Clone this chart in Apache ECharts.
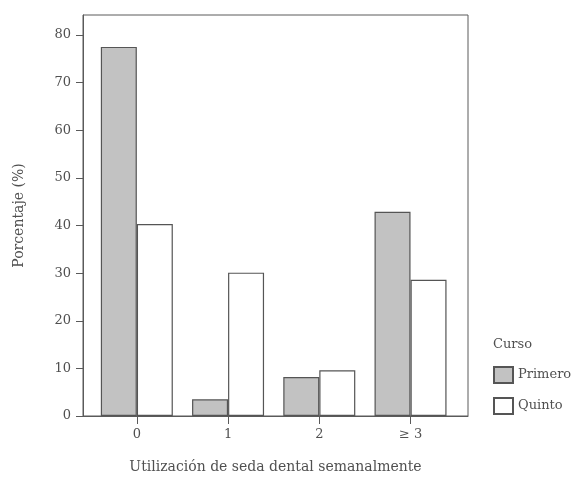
<!DOCTYPE html>
<html>
<head>
<meta charset="utf-8">
<script src="https://cdn.jsdelivr.net/npm/echarts@6/dist/echarts.min.js"></script>
<style>
	html, body { margin: 0; padding: 0; background: #fff; }
	#chart { width: 581px; height: 479px; }
</style>
</head>
<body>
<div id="chart"></div>
<script>
// datos
const categories = ['0', '1', '2', '\u2265 3'];
const seriesNames = ['Primero', 'Quinto'];
const primero = [77.5, 3.5, 8.2, 42.9];
const quinto = [40.3, 30.1, 9.6, 28.6];
const xTicks = [0, 1, 2, 3];
const yTicks = [0, 10, 20, 30, 40, 50, 60, 70, 80];

const font = '"DejaVu Serif", "Liberation Serif", serif';
const textColor = '#505050';
const lineColor = '#5a5a5a';

let myChart = echarts.init(document.getElementById('chart'));

function toPoints(arr) {
	let pts = [];
	for (let i = 0; i < arr.length; i++) {
		pts.push([xTicks[i], arr[i]]);
	}
	return pts;
}

let option = {
	animation: false,
	title: {
		text: 'Curso',
		left: 488,
		top: 333,
		textStyle: { fontFamily: font, fontSize: 13, fontWeight: 'normal', color: textColor }
	},
	legend: {
		orient: 'vertical',
		left: 488,
		top: 361,
		icon: 'rect',
		itemWidth: 19,
		itemHeight: 16,
		itemGap: 13,
		data: seriesNames,
		textStyle: { fontFamily: font, fontSize: 13, color: textColor }
	},
	grid: {
		left: 83,
		right: 113,
		top: 15,
		bottom: 63,
		show: true,
		borderColor: lineColor,
		borderWidth: 1,
		containLabel: false
	},
	xAxis: {
		type: 'value',
		min: -0.59,
		max: 3.63,
		name: 'Utilización de seda dental semanalmente',
		nameLocation: 'middle',
		nameGap: 44,
		nameTextStyle: { fontFamily: font, fontSize: 14, color: textColor },
		splitLine: { show: false },
		axisLine: { show: true, onZero: false, lineStyle: { color: lineColor } },
		axisTick: {
			show: true,
			inside: false,
			length: 8,
			customValues: xTicks,
			lineStyle: { color: lineColor, width: 1 }
		},
		axisLabel: {
			margin: 12,
			customValues: xTicks,
			formatter: function(v) { return categories[xTicks.indexOf(v)]; },
			fontFamily: font,
			fontSize: 13,
			color: textColor
		}
	},
	yAxis: {
		type: 'value',
		min: 0,
		max: 84.2,
		name: 'Porcentaje (%)',
		nameLocation: 'middle',
		nameGap: 57,
		nameTextStyle: { fontFamily: font, fontSize: 14, color: textColor },
		splitLine: { show: false },
		axisLine: { show: true, onZero: false, lineStyle: { color: lineColor } },
		axisTick: {
			show: true,
			inside: false,
			length: 7,
			customValues: yTicks,
			lineStyle: { color: lineColor }
		},
		axisLabel: {
			margin: 12,
			customValues: yTicks,
			fontFamily: font,
			fontSize: 13,
			color: textColor
		}
	},
	series: [
		{
			name: seriesNames[0],
			type: 'bar',
			barWidth: 36,
			barGap: '0%',
			data: toPoints(primero),
			itemStyle: { color: '#c2c2c2', borderColor: '#555', borderWidth: 1.2 }
		},
		{
			name: seriesNames[1],
			type: 'bar',
			barWidth: 36,
			barGap: '0%',
			data: toPoints(quinto),
			itemStyle: { color: '#ffffff', borderColor: '#555', borderWidth: 1.2 }
		}
	]
};

myChart.setOption(option);
</script>
</body>
</html>
